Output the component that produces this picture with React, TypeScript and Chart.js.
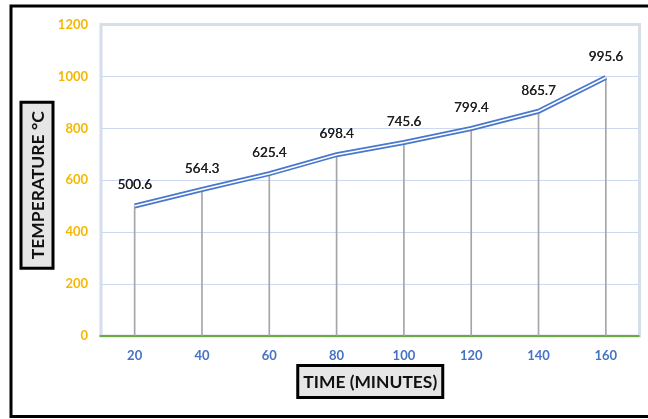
import { useEffect, useRef } from "react";
import { Chart, registerables } from "chart.js";

Chart.register(...registerables);

// Furnace temperature readings over time
const timeMinutes = ["20", "40", "60", "80", "100", "120", "140", "160"];
const temperatureC = [500.6, 564.3, 625.4, 698.4, 745.6, 799.4, 865.7, 995.6];

const yMin = 0;
const yMax = 1200;
const yStep = 200;

const yAxisTitle = "TEMPERATURE °C";
const xAxisTitle = "TIME (MINUTES)";

const FONT = "Lato, 'Open Sans', sans-serif";

// pick a font size so the text spans the given width
function fitFont(ctx: CanvasRenderingContext2D, text: string, width: number) {
  ctx.font = `bold 20px ${FONT}`;
  const w = ctx.measureText(text).width;
  return `bold ${(20 * width) / w}px ${FONT}`;
}

const decorPlugin = {
  id: "decor",
  beforeDatasetsDraw(chart: any) {
    const { ctx, chartArea } = chart;
    const { left, top, right, bottom } = chartArea;
    ctx.save();
    // plot area frame
    ctx.strokeStyle = "#D6DEEA";
    ctx.lineWidth = 3;
    ctx.strokeRect(left, top, right - left, bottom - top);
    // green baseline at zero
    const y0 = chart.scales.y.getPixelForValue(0);
    ctx.strokeStyle = "#6AAA45";
    ctx.lineWidth = 2;
    ctx.beginPath();
    ctx.moveTo(left - 1.5, y0);
    ctx.lineTo(right, y0);
    ctx.stroke();
    ctx.restore();
  },
  afterDatasetsDraw(chart: any) {
    const { ctx } = chart;
    const meta = chart.getDatasetMeta(1);
    ctx.save();
    ctx.font = `13.5px ${FONT}`;
    ctx.fillStyle = "#1E1E1E";
    ctx.textAlign = "center";
    ctx.textBaseline = "middle";
    meta.data.forEach((pt: any, i: number) => {
      const t = temperatureC[i].toFixed(1);
      ctx.fillText(t, pt.x, pt.y - 21);
      ctx.fillText(t, pt.x + 0.3, pt.y - 21);
    });
    ctx.restore();
  },
  afterDraw(chart: any) {
    const { ctx, chartArea } = chart;
    const { left, top, right, bottom } = chartArea;
    ctx.save();
    // outer frame
    ctx.strokeStyle = "#000";
    ctx.lineWidth = 3;
    ctx.strokeRect(11, 6, 700, 410.5);

    const drawBox = (cx: number, cy: number, w: number, h: number, text: string, textW: number, rotate: boolean) => {
      ctx.save();
      ctx.translate(cx, cy);
      if (rotate) ctx.rotate(-Math.PI / 2);
      ctx.fillStyle = "#E7E6E6";
      ctx.fillRect(-w / 2, -h / 2, w, h);
      ctx.strokeStyle = "#000";
      ctx.lineWidth = 3;
      ctx.strokeRect(-w / 2, -h / 2, w, h);
      ctx.fillStyle = "#111";
      ctx.font = fitFont(ctx, text, textW);
      ctx.textAlign = "center";
      ctx.textBaseline = "middle";
      ctx.fillText(text, 0, 1);
      ctx.restore();
    };

    drawBox((left + right) / 2, bottom + 45.5, 145, 32, xAxisTitle, 134, false);
    drawBox(left - 64, (top + bottom) / 2 + 5, 166, 32, yAxisTitle, 148, true);
    ctx.restore();
  },
};

export default function App() {
  const canvasRef = useRef<HTMLCanvasElement | null>(null);

  useEffect(() => {
    if (!canvasRef.current) return;
    const chart = new Chart(canvasRef.current, {
      type: "bar",
      data: {
        labels: timeMinutes,
        datasets: [
          {
            type: "line",
            data: temperatureC,
            borderColor: "#FFFFFF",
            borderWidth: 1.6,
            pointRadius: 0,
            tension: 0,
            order: 0,
          } as any,
          {
            type: "line",
            data: temperatureC,
            borderColor: "#4A78CC",
            borderWidth: 5,
            pointRadius: 0,
            tension: 0,
            order: 1,
          } as any,
          {
            type: "bar",
            data: temperatureC,
            backgroundColor: "#A6A6A6",
            barThickness: 1,
            order: 2,
          },
        ],
      },
      plugins: [decorPlugin],
      options: {
        responsive: false,
        animation: false,
        layout: { padding: { left: 0, top: 24.5, right: 8.5, bottom: 0 } },
        plugins: {
          legend: { display: false },
          tooltip: { enabled: false },
          title: { display: false },
        },
        scales: {
          x: {
            offset: true,
            grid: { display: false },
            border: { display: false },
            ticks: {
              padding: 4,
              color: "#4472C4",
              font: { family: FONT, size: 13, weight: "bold" },
            },
            afterFit(scale: any) {
              scale.height = 83;
            },
          },
          y: {
            min: yMin,
            max: yMax,
            border: { display: false },
            grid: { color: "#CCD9F0", lineWidth: 1, drawTicks: false },
            ticks: {
              stepSize: yStep,
              padding: 13,
              color: "#F5B800",
              font: { family: FONT, size: 13, weight: "bold" },
              callback: (v: any) => String(v),
            },
            afterFit(scale: any) {
              scale.width = 101;
            },
          },
        },
      },
    });
    return () => chart.destroy();
  }, []);

  return (
    <div style={{ position: "absolute", left: 0, top: 0, width: 648, height: 419, background: "#fff" }}>
      <canvas ref={canvasRef} width={648} height={419} />
    </div>
  );
}
